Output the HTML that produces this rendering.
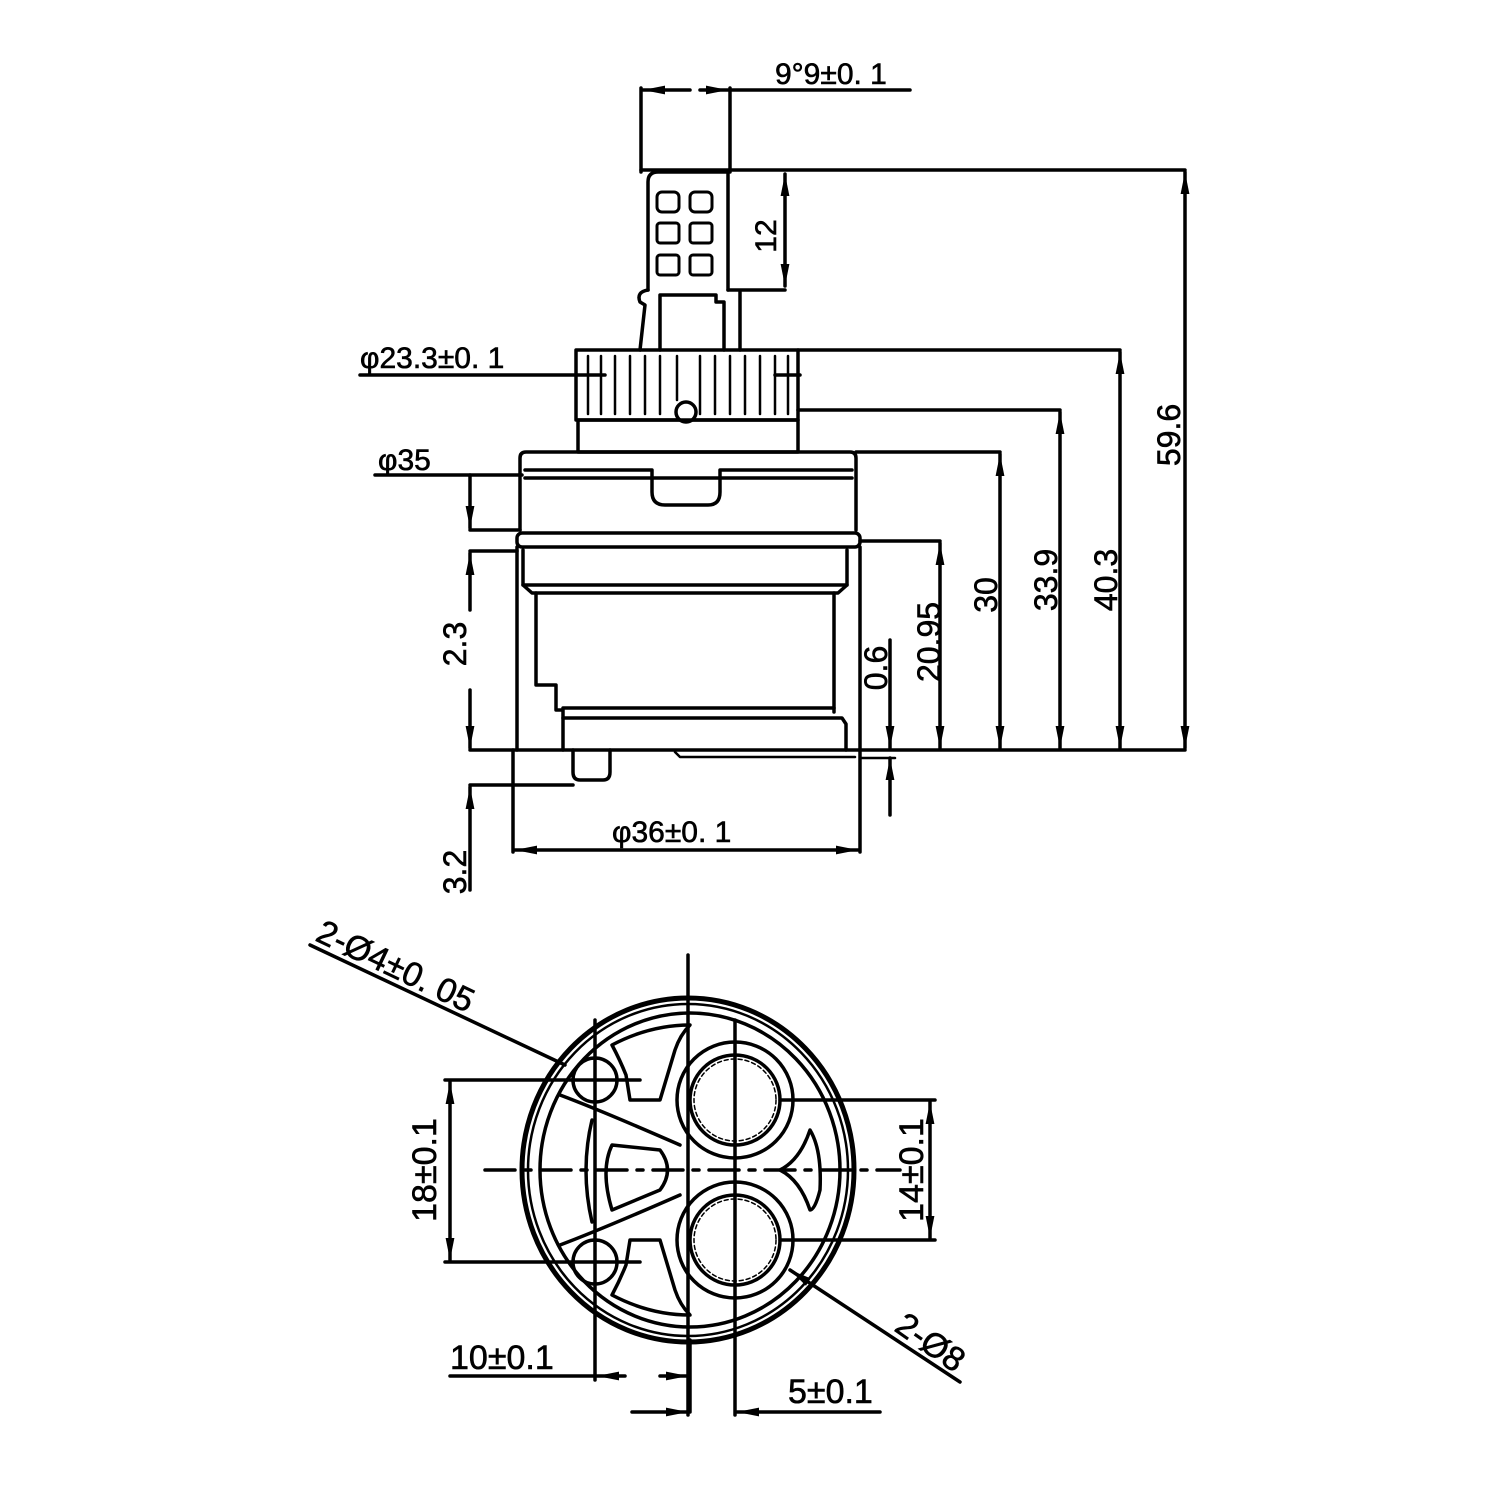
<!DOCTYPE html>
<html><head><meta charset="utf-8"><style>
html,body{margin:0;padding:0;background:#fff;}
svg{display:block;}
text{font-family:"Liberation Sans",sans-serif;fill:#000;stroke:#000;stroke-width:0.6;}
</style></head><body>
<svg width="1500" height="1500" viewBox="0 0 1500 1500" xmlns="http://www.w3.org/2000/svg">
<defs>
<marker id="a" viewBox="0 0 20 10" refX="20" refY="5" markerWidth="22" markerHeight="11" markerUnits="userSpaceOnUse" orient="auto-start-reverse">
<path d="M0,1 L20,5 L0,9 Z" fill="#000"/></marker>
</defs>
<g stroke="#000" stroke-width="3.5" fill="none" stroke-linecap="round" stroke-linejoin="round">
<line x1="641" y1="88" x2="641" y2="172"/>
<line x1="730" y1="88" x2="730" y2="172"/>
<line x1="643" y1="90" x2="690" y2="90" marker-start="url(#a)"/>
<line x1="700" y1="90" x2="728" y2="90" marker-end="url(#a)"/>
<line x1="730" y1="90" x2="910" y2="90"/>
<line x1="641" y1="170" x2="1185" y2="170"/>
<path d="M648,290 V182 Q648,172 658,172 H728 V290"/>
<g stroke-width="3">
<rect x="657" y="192" width="22" height="20" rx="5"/><rect x="690" y="192" width="22" height="20" rx="5"/>
<rect x="657" y="223" width="22" height="20" rx="3"/><rect x="690" y="223" width="22" height="20" rx="3"/>
<rect x="657" y="255" width="22" height="20" rx="3"/><rect x="690" y="255" width="22" height="20" rx="3"/>
</g>
<line x1="728" y1="290" x2="785" y2="290"/>
<line x1="785" y1="174" x2="785" y2="286" marker-start="url(#a)" marker-end="url(#a)"/>
<path d="M648,290 Q636,292 640,302 L645,305 L640,350"/>
<path d="M660,350 V295 H716 V302 H724 V350"/>
<line x1="740" y1="292" x2="740" y2="350"/>
<rect x="576" y="350" width="222" height="70"/>
<g stroke-width="2.5">
<line x1="588" y1="356" x2="588" y2="414"/><line x1="601" y1="356" x2="601" y2="414"/><line x1="615" y1="356" x2="615" y2="414"/>
<line x1="630" y1="356" x2="630" y2="414"/><line x1="645" y1="356" x2="645" y2="414"/><line x1="660" y1="356" x2="660" y2="414"/>
<line x1="677" y1="356" x2="677" y2="400"/><line x1="700" y1="356" x2="700" y2="414"/><line x1="715" y1="356" x2="715" y2="414"/>
<line x1="730" y1="356" x2="730" y2="414"/><line x1="745" y1="356" x2="745" y2="414"/><line x1="760" y1="356" x2="760" y2="414"/>
<line x1="775" y1="356" x2="775" y2="414"/><line x1="788" y1="356" x2="788" y2="414"/>
</g>
<circle cx="686" cy="412" r="10" fill="#fff"/>
<line x1="798" y1="350" x2="1120" y2="350"/>
<line x1="798" y1="410" x2="1060" y2="410"/>
<line x1="360" y1="375" x2="605" y2="375"/>
<line x1="775" y1="375" x2="800" y2="375"/>
<rect x="578" y="420" width="220" height="32"/>
<path d="M520,530 V458 Q520,452 526,452 H850 Q856,452 856,458 V530"/>
<path d="M525,470 H652 V492 Q652,505 665,505 H708 Q720,505 720,492 V470 H852"/>
<line x1="525" y1="478" x2="852" y2="478"/>
<line x1="856" y1="452" x2="1000" y2="452"/>
<line x1="375" y1="475" x2="522" y2="475"/>
<line x1="470" y1="530" x2="520" y2="530"/>
<rect x="517" y="533" width="343" height="14" rx="5"/>
<line x1="470" y1="551" x2="517" y2="551"/>
<line x1="860" y1="541" x2="940" y2="541"/>
<path d="M517,547 V750 M860,547 V750"/>
<path d="M523,550 V585 L532,593 H838 L847,585 V550"/>
<line x1="523" y1="585" x2="847" y2="585"/>
<path d="M536,593 V685 H556 V710 H563 V750"/>
<line x1="834" y1="593" x2="834" y2="712"/>
<line x1="563" y1="708" x2="834" y2="708"/>
<path d="M563,718 H842 L846,724 V750"/>
<line x1="470" y1="750" x2="1185" y2="750"/>
<path d="M573,750 V772 Q573,780 580,780 H603 Q610,780 610,772 V750"/>
<line x1="470" y1="785" x2="573" y2="785"/>
<path d="M675,752 L680,757 H855" stroke-width="2.5"/>
<line x1="513" y1="750" x2="513" y2="852"/>
<line x1="860" y1="750" x2="860" y2="852"/>
<line x1="515" y1="850" x2="858" y2="850" marker-start="url(#a)" marker-end="url(#a)"/>
<line x1="470" y1="475" x2="470" y2="528" marker-end="url(#a)"/>
<line x1="470" y1="553" x2="470" y2="610" marker-start="url(#a)"/>
<line x1="470" y1="690" x2="470" y2="748" marker-end="url(#a)"/>
<line x1="470" y1="787" x2="470" y2="890" marker-start="url(#a)"/>
<line x1="890" y1="640" x2="890" y2="748" marker-end="url(#a)"/>
<line x1="890" y1="758" x2="890" y2="815" marker-start="url(#a)"/>
<line x1="860" y1="758" x2="895" y2="758" stroke-width="2.5"/>
<line x1="940" y1="543" x2="940" y2="748" marker-start="url(#a)" marker-end="url(#a)"/>
<line x1="1000" y1="454" x2="1000" y2="748" marker-start="url(#a)" marker-end="url(#a)"/>
<line x1="1060" y1="412" x2="1060" y2="748" marker-start="url(#a)" marker-end="url(#a)"/>
<line x1="1120" y1="352" x2="1120" y2="748" marker-start="url(#a)" marker-end="url(#a)"/>
<line x1="1185" y1="172" x2="1185" y2="748" marker-start="url(#a)" marker-end="url(#a)"/>

<line x1="688" y1="955" x2="688" y2="1415"/>
<line x1="485" y1="1170" x2="900" y2="1170" stroke-dasharray="30,10,6,10"/>
<ellipse cx="688" cy="1170" rx="166" ry="172" stroke-width="5"/>
<ellipse cx="688" cy="1170" rx="160" ry="166" stroke-width="2.5"/>
<ellipse cx="690" cy="1170" rx="150" ry="157"/>
<path d="M592,1120 Q580,1170 592,1222"/>
<path d="M612,1145 Q600,1170 612,1210 L660,1190 Q675,1170 660,1150 Z"/>
<path d="M560,1095 Q600,1110 680,1145"/>
<path d="M560,1245 Q600,1230 680,1195"/>
<path d="M612,1045 Q650,1025 690,1025 Q680,1035 675,1050 L660,1100 L630,1100 L626,1075 Q620,1060 612,1045 Z"/>
<path d="M612,1295 Q650,1315 690,1315 Q680,1305 675,1290 L660,1240 L630,1240 L626,1265 Q620,1280 612,1295 Z"/>
<path d="M780,1170 Q800,1160 810,1130 Q822,1150 820,1190 Q815,1210 810,1210 Q800,1180 780,1170 Z"/>
<circle cx="595" cy="1080" r="22"/>
<circle cx="595" cy="1262" r="22"/>
<circle cx="735" cy="1100" r="58"/>
<circle cx="735" cy="1100" r="45"/>
<circle cx="735" cy="1100" r="41" stroke-width="1.5" stroke-dasharray="4,3"/>
<circle cx="735" cy="1240" r="58"/>
<circle cx="735" cy="1240" r="45"/>
<circle cx="735" cy="1240" r="41" stroke-width="1.5" stroke-dasharray="4,3"/>
<line x1="595" y1="1020" x2="595" y2="1380"/>
<line x1="735" y1="1020" x2="735" y2="1415"/>
<line x1="445" y1="1080" x2="640" y2="1080"/>
<line x1="445" y1="1262" x2="640" y2="1262"/>
<line x1="450" y1="1082" x2="450" y2="1260" marker-start="url(#a)" marker-end="url(#a)"/>
<line x1="780" y1="1100" x2="935" y2="1100"/>
<line x1="780" y1="1240" x2="935" y2="1240"/>
<line x1="930" y1="1102" x2="930" y2="1238" marker-start="url(#a)" marker-end="url(#a)"/>
<line x1="310" y1="945" x2="565" y2="1065"/>
<line x1="790" y1="1270" x2="960" y2="1382" marker-start="url(#a)"/>
<line x1="450" y1="1376" x2="595" y2="1376"/>
<line x1="597" y1="1376" x2="625" y2="1376" marker-start="url(#a)"/>
<line x1="660" y1="1376" x2="688" y2="1376" marker-end="url(#a)"/>
<line x1="690" y1="1340" x2="690" y2="1412"/>
<line x1="632" y1="1412" x2="688" y2="1412" marker-end="url(#a)"/>
<line x1="737" y1="1412" x2="880" y2="1412" marker-start="url(#a)"/>
</g>
<g font-size="32">
<text x="775" y="84" font-size="30">9°9±0. 1</text>
<text x="360" y="368" font-size="30">φ23.3±0. 1</text>
<text x="378" y="470" font-size="30">φ35</text>
<text x="612" y="842" font-size="30">φ36±0. 1</text>
<text transform="translate(776,236) rotate(-90)" text-anchor="middle" font-size="30">12</text>
<text transform="translate(466,644) rotate(-90)" text-anchor="middle">2.3</text>
<text transform="translate(466,872) rotate(-90)" text-anchor="middle">3.2</text>
<text transform="translate(887,668) rotate(-90)" text-anchor="middle">0.6</text>
<text transform="translate(940,642) rotate(-90)" text-anchor="middle">20.95</text>
<text transform="translate(997,595) rotate(-90)" text-anchor="middle">30</text>
<text transform="translate(1057,580) rotate(-90)" text-anchor="middle">33.9</text>
<text transform="translate(1117,580) rotate(-90)" text-anchor="middle">40.3</text>
<text transform="translate(1180,435) rotate(-90)" text-anchor="middle">59.6</text>
<text transform="translate(314,940) rotate(25.5)" font-size="34">2-Ø4±0. 05</text>
<text transform="translate(436,1170) rotate(-90)" text-anchor="middle" font-size="34">18±0.1</text>
<text transform="translate(923,1170) rotate(-90)" text-anchor="middle" font-size="34">14±0.1</text>
<text transform="translate(893,1330) rotate(35)" font-size="34">2-Ø8</text>
<text x="450" y="1369" font-size="34">10±0.1</text>
<text x="788" y="1403" font-size="34">5±0.1</text>
</g>
</svg>
</body></html>
